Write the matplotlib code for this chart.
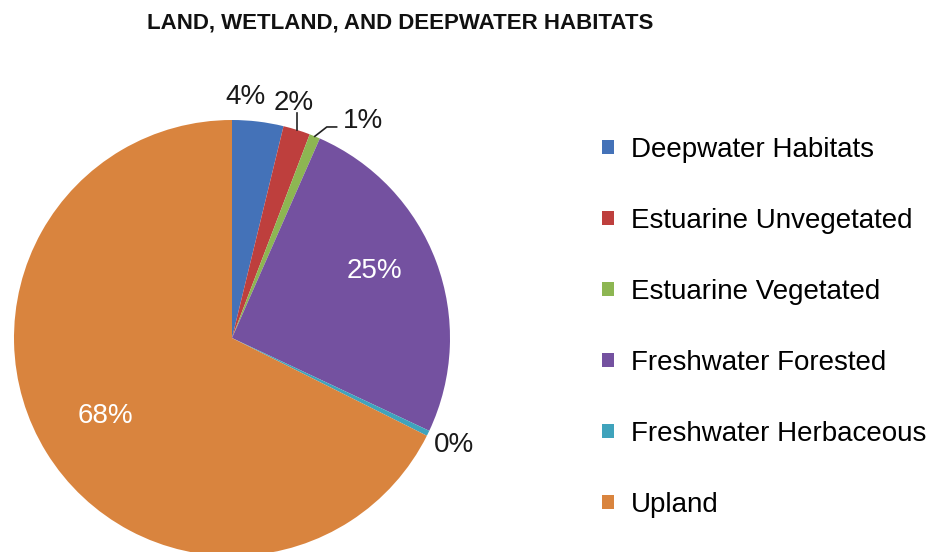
import numpy as np
import matplotlib
matplotlib.use("Agg")
import matplotlib.pyplot as plt
from matplotlib.patches import Patch

plt.rcParams['font.family'] = ['Liberation Sans', 'DejaVu Sans']

categories = ["Deepwater Habitats", "Estuarine Unvegetated", "Estuarine Vegetated",
              "Freshwater Forested", "Freshwater Herbaceous", "Upland"]
values = [3.8, 2.0, 0.8, 25.4, 0.4, 67.6]
colors = ['#4472B8', '#BE3F3D', '#8DB652', '#7451A0', '#3FA3BC', '#D9843E']
title = "LAND, WETLAND, AND DEEPWATER HABITATS"

W, H = 934, 552
fig = plt.figure(figsize=(W / 100, H / 100), dpi=100)
ax = fig.add_axes([0, 0, 1, 1])
cx, cy, R = 232, 338, 218

wedges, _ = ax.pie(values, colors=colors, startangle=90, counterclock=False,
                   radius=1.0, wedgeprops=dict(linewidth=0))
ax.set_xlim(-cx / R, (W - cx) / R)
ax.set_ylim(-(H - cy) / R, cy / R)
ax.set_aspect('auto')
ax.axis('off')

total = sum(values)
labels = ["%.0f%%" % (100 * v / total) for v in values]
mids = [np.deg2rad((w.theta1 + w.theta2) / 2) for w in wedges]
fs = 20

def pt(i, r):
    return r * np.cos(mids[i]), r * np.sin(mids[i])

# 4% outside, near top
ax.text(0.06, 1.105, labels[0], ha='center', va='center', fontsize=fs, color='#1a1a1a')
# 2% with vertical leader
x0, y0 = pt(1, 1.0)
ax.plot([x0, x0], [y0, 1.032], color='#222222', lw=1.2)
ax.text(x0 - 0.015, 1.08, labels[1], ha='center', va='center', fontsize=fs, color='#1a1a1a')
# 1% with bent leader
x0, y0 = pt(2, 1.0)
ax.plot([x0, x0 + 0.055, x0 + 0.10], [y0, 0.968, 0.968], color='#222222', lw=1.2)
ax.text(x0 + 0.13, 0.995, labels[2], ha='left', va='center', fontsize=fs, color='#1a1a1a')
# 25% inside
x0, y0 = pt(3, 0.70)
ax.text(x0, y0 + 0.06, labels[3], ha='center', va='center', fontsize=fs, color='white')
# 0% outside
ax.text(1.02, -0.49, labels[4], ha='center', va='center', fontsize=fs, color='#1a1a1a')
# 68% inside
x0, y0 = pt(5, 0.68)
ax.text(x0, y0, labels[5], ha='center', va='center', fontsize=fs, color='white')

handles = [Patch(facecolor=c, edgecolor='none') for c in colors]
fig.legend(handles, categories, loc='center left',
           bbox_to_anchor=(602 / W, 1 - 327.5 / H), frameon=False,
           fontsize=20, handlelength=0.43, handleheight=0.43,
           handletextpad=0.6, labelspacing=1.62, borderpad=0, borderaxespad=0)

fig.text(400 / W, 1 - 23 / H, title, ha='center', va='center',
         fontsize=16, fontweight='bold', color='#111111')

fig.savefig("out.png", dpi=100, facecolor='white')
